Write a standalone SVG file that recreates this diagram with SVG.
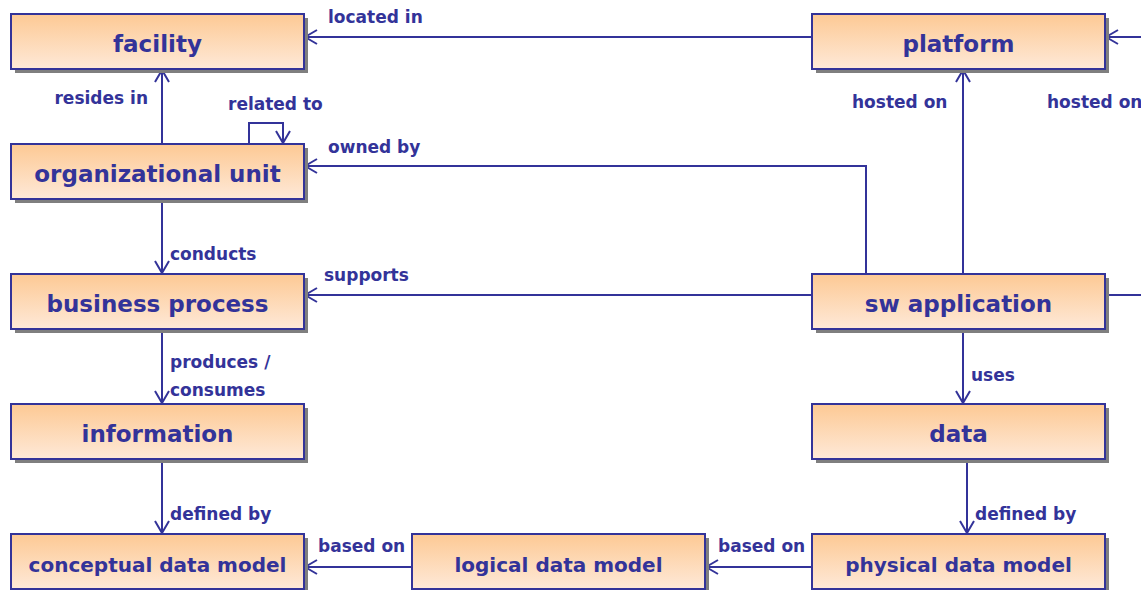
<svg xmlns="http://www.w3.org/2000/svg" width="1141" height="590" viewBox="0 0 1141 590">
<defs>
<linearGradient id="g" x1="0" y1="0" x2="0" y2="1">
<stop offset="0" stop-color="#FDC994"/>
<stop offset="1" stop-color="#FEE9D8"/>
</linearGradient>
<marker id="arr" markerUnits="userSpaceOnUse" markerWidth="14" markerHeight="16" viewBox="0 0 14 16" refX="13" refY="8" orient="auto">
<path d="M1,1 L13,8 L1,15" fill="none" stroke="#333399" stroke-width="2"/>
</marker>
</defs>
<style>
.sh{fill:#7f7f7f}
.bx{fill:url(#g);stroke:#333399;stroke-width:2}
.nt{font-family:"DejaVu Sans",sans-serif;font-weight:bold;font-size:23px;fill:#333399;text-anchor:middle}
.sm{font-size:20px}
.lb{font-family:"DejaVu Sans",sans-serif;font-weight:bold;font-size:17px;fill:#333399}
.c{fill:none;stroke:#333399;stroke-width:2}
</style>
<g id="connectors">
<path class="c" d="M812,37 L305,37" marker-end="url(#arr)"/>
<path class="c" d="M162,144 L162,70" marker-end="url(#arr)"/>
<path class="c" d="M249,144 L249,123 L283,123 L283,143" marker-end="url(#arr)"/>
<path class="c" d="M866,274 L866,166 L305,166" marker-end="url(#arr)"/>
<path class="c" d="M963,274 L963,70" marker-end="url(#arr)"/>
<path class="c" d="M1145,37 L1106,37" marker-end="url(#arr)"/>
<path class="c" d="M1105,295 L1145,295"/>
<path class="c" d="M812,295 L305,295" marker-end="url(#arr)"/>
<path class="c" d="M162,199 L162,273" marker-end="url(#arr)"/>
<path class="c" d="M162,328 L162,403" marker-end="url(#arr)"/>
<path class="c" d="M963,328 L963,403" marker-end="url(#arr)"/>
<path class="c" d="M162,459 L162,533" marker-end="url(#arr)"/>
<path class="c" d="M967,459 L967,533" marker-end="url(#arr)"/>
<path class="c" d="M812,567 L706,567" marker-end="url(#arr)"/>
<path class="c" d="M412,567 L305,567" marker-end="url(#arr)"/>
<text class="lb" x="328" y="23">located in</text>
<text class="lb" x="148" y="104" text-anchor="end">resides in</text>
<text class="lb" x="228" y="110">related to</text>
<text class="lb" x="328" y="153">owned by</text>
<text class="lb" x="170" y="260">conducts</text>
<text class="lb" x="324" y="281">supports</text>
<text class="lb" x="170" y="368">produces /</text>
<text class="lb" x="170" y="396">consumes</text>
<text class="lb" x="852" y="108">hosted on</text>
<text class="lb" x="1047" y="108">hosted on</text>
<text class="lb" x="971" y="381">uses</text>
<text class="lb" x="170" y="520">defined by</text>
<text class="lb" x="975" y="520">defined by</text>
<text class="lb" x="318" y="552">based on</text>
<text class="lb" x="718" y="552">based on</text>
</g>
<g id="facility"><rect class="sh" x="15" y="18" width="293" height="55"/><rect class="bx" x="11" y="14" width="293" height="55"/><text class="nt" x="157.5" y="52">facility</text></g>
<g id="platform"><rect class="sh" x="816" y="18" width="293" height="55"/><rect class="bx" x="812" y="14" width="293" height="55"/><text class="nt" x="958.5" y="52">platform</text></g>
<g id="organizational-unit"><rect class="sh" x="15" y="148" width="293" height="55"/><rect class="bx" x="11" y="144" width="293" height="55"/><text class="nt" x="157.5" y="182">organizational unit</text></g>
<g id="business-process"><rect class="sh" x="15" y="278" width="293" height="55"/><rect class="bx" x="11" y="274" width="293" height="55"/><text class="nt" x="157.5" y="312">business process</text></g>
<g id="sw-application"><rect class="sh" x="816" y="278" width="293" height="55"/><rect class="bx" x="812" y="274" width="293" height="55"/><text class="nt" x="958.5" y="312">sw application</text></g>
<g id="information"><rect class="sh" x="15" y="408" width="293" height="55"/><rect class="bx" x="11" y="404" width="293" height="55"/><text class="nt" x="157.5" y="442">information</text></g>
<g id="data"><rect class="sh" x="816" y="408" width="293" height="55"/><rect class="bx" x="812" y="404" width="293" height="55"/><text class="nt" x="958.5" y="442">data</text></g>
<g id="conceptual-data-model"><rect class="sh" x="15" y="538" width="293" height="55"/><rect class="bx" x="11" y="534" width="293" height="55"/><text class="nt sm" x="157.5" y="572">conceptual data model</text></g>
<g id="logical-data-model"><rect class="sh" x="416" y="538" width="293" height="55"/><rect class="bx" x="412" y="534" width="293" height="55"/><text class="nt sm" x="558.5" y="572">logical data model</text></g>
<g id="physical-data-model"><rect class="sh" x="816" y="538" width="293" height="55"/><rect class="bx" x="812" y="534" width="293" height="55"/><text class="nt sm" x="958.5" y="572">physical data model</text></g>
</svg>
